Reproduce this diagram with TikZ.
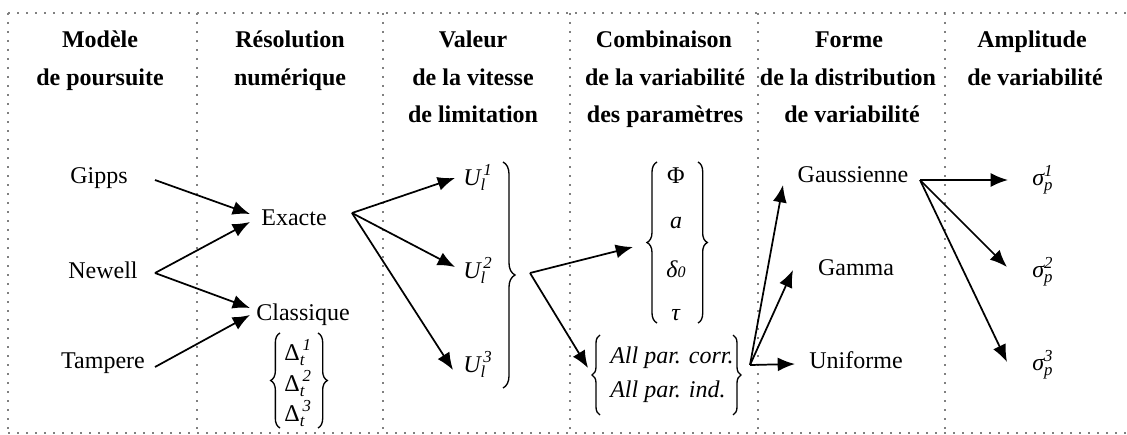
\documentclass[tikz,border=0pt]{standalone}
\usepackage{fontspec}
\usepackage{amsmath}
\setmainfont{Liberation Serif}
\usetikzlibrary{arrows.meta,decorations.pathreplacing}
\begin{document}
\begin{tikzpicture}[x=0.75pt,y=-0.75pt,
  lbl/.style={font=\fontsize{18}{22}\selectfont, inner sep=0pt, anchor=base},
  lblw/.style={font=\fontsize{18}{22}\selectfont, inner sep=0pt, anchor=base west},
  ttl/.style={font=\fontsize{18}{22}\selectfont\bfseries, inner sep=0pt, anchor=base},
  arr/.style={-{Latex[length=13pt,width=10.5pt]}, line width=1.3pt},
  framel/.style={color=black!50, line width=1.6pt, dash pattern=on 1.6pt off 5.15pt},
  brc/.style={decorate, decoration={brace, amplitude=#1}, line width=1pt},
  brc/.default=7pt
]
\useasboundingbox (0,0) rectangle (1127,435);
% frame
\draw[framel] (8,13) -- (1127,13);
\draw[framel] (8,433) -- (1127,433);
\foreach \xx in {8,197,383,570,758,945}{\draw[framel] (\xx,13) -- (\xx,433);}
% titles
\node[ttl] (h1a) at (100,48) {Modèle};
\node[ttl] (h1b) at (100,85) {de poursuite};
\node[ttl] (h2a) at (290,48) {Résolution};
\node[ttl] (h2b) at (290,85) {numérique};
\node[ttl] (h3a) at (473,48) {Valeur};
\node[ttl] (h3b) at (473,85) {de la vitesse};
\node[ttl] (h3c) at (473,122) {de limitation};
\node[ttl] (h4a) at (664,48) {Combinaison};
\node[ttl] (h4b) at (665,85) {de la variabilité};
\node[ttl] (h4c) at (665,122) {des paramètres};
\node[ttl] (h5a) at (849,48) {Forme};
\node[ttl] (h5b) at (848,85) {de la distribution};
\node[ttl] (h5c) at (852,122) {de variabilité};
\node[ttl] (h6a) at (1032,48) {Amplitude};
\node[ttl] (h6b) at (1035,85) {de variabilité};
% column 1
\node[lbl] (gipps) at (99,183) {Gipps};
\node[lbl] (newell) at (103,278) {Newell};
\node[lbl] (tampere) at (103,368) {Tampere};
% column 2
\node[lbl] (exacte) at (294,225) {Exacte};
\node[lbl] (classique) at (303,320) {Classique};
\node[lbl] (d1) at (298,360) {$\text{Δ}_{\textit{t}}^{\,\textit{1}}$};
\node[lbl] (d2) at (298,391) {$\text{Δ}_{\textit{t}}^{\,\textit{2}}$};
\node[lbl] (d3) at (298,421) {$\text{Δ}_{\textit{t}}^{\,\textit{3}}$};
\draw[brc] (280,428) -- (280,333);
\draw[brc] (318,333) -- (318,428);
% column 3
\node[lblw] (u1) at (463,185) {$\textit{U}_{\textit{l}}^{\,\textit{1}}$};
\node[lblw] (u2) at (463,278) {$\textit{U}_{\textit{l}}^{\,\textit{2}}$};
\node[lblw] (u3) at (463,372) {$\textit{U}_{\textit{l}}^{\,\textit{3}}$};
\draw[brc=9pt] (503,162) -- (503,388);
% column 4
\node[lbl] (phi) at (676,183) {Φ};
\node[lbl] (pa) at (676,228) {\textit{a}};
\node[lbl] (pdelta) at (676,277) {\textit{δ}{\fontsize{12}{12}\selectfont\textit{0}}};
\node[lbl] (ptau) at (676,320) {\textit{τ}};
\draw[brc=7.5pt] (657,323) -- (657,162);
\draw[brc=7pt] (698,162) -- (698,323);
\node[lblw] (corr) at (610,363) {\textit{All par. corr.}};
\node[lblw] (ind) at (610,397) {\textit{All par. ind.}};
\draw[brc=6pt] (600,415) -- (600,335);
\draw[brc=6pt] (733,335) -- (733,415);
% column 5
\node[lbl] (gauss) at (853,182) {Gaussienne};
\node[lbl] (gamma) at (856,275) {Gamma};
\node[lbl] (unif) at (856,368) {Uniforme};
% column 6
\node[lblw] (s1) at (1032,185) {$\textit{σ}_{\textit{p}}^{\textit{1}}$};
\node[lblw] (s2) at (1032,277) {$\textit{σ}_{\textit{p}}^{\textit{2}}$};
\node[lblw] (s3) at (1032,370) {$\textit{σ}_{\textit{p}}^{\textit{3}}$};
% ports
\coordinate (gOut) at (155,180);
\coordinate (nOut) at (155,273);
\coordinate (tOut) at (155,367);
\coordinate (exIn1) at (250,214);
\coordinate (exIn2) at (250,222);
\coordinate (clIn1) at (250,308);
\coordinate (clIn2) at (250,315);
\coordinate (exOut) at (352,213);
\coordinate (u1In) at (455,178);
\coordinate (u2In) at (455,267);
\coordinate (u3In) at (453,370);
\coordinate (uOut) at (530,273);
\coordinate (parIn) at (633,247);
\coordinate (corrIn) at (588,368);
\coordinate (corrOut) at (750,365);
\coordinate (gaIn) at (783,185);
\coordinate (gmIn) at (793,270);
\coordinate (unIn) at (795,364);
\coordinate (gaOut) at (920,180);
\coordinate (s1In) at (1008,180);
\coordinate (s2In) at (1007,267);
\coordinate (s3In) at (1007,362);
% arrows
\draw[arr] (gOut) -- (exIn1);
\draw[arr] (nOut) -- (exIn2);
\draw[arr] (nOut) -- (clIn1);
\draw[arr] (tOut) -- (clIn2);
\draw[arr] (exOut) -- (u1In);
\draw[arr] (exOut) -- (u2In);
\draw[arr] (exOut) -- (u3In);
\draw[arr] (uOut) -- (parIn);
\draw[arr] (uOut) -- (corrIn);
\draw[arr] (corrOut) -- (gaIn);
\draw[arr] (corrOut) -- (gmIn);
\draw[arr] (corrOut) -- (unIn);
\draw[arr] (gaOut) -- (s1In);
\draw[arr] (gaOut) -- (s2In);
\draw[arr] (gaOut) -- (s3In);
\end{tikzpicture}
\end{document}
